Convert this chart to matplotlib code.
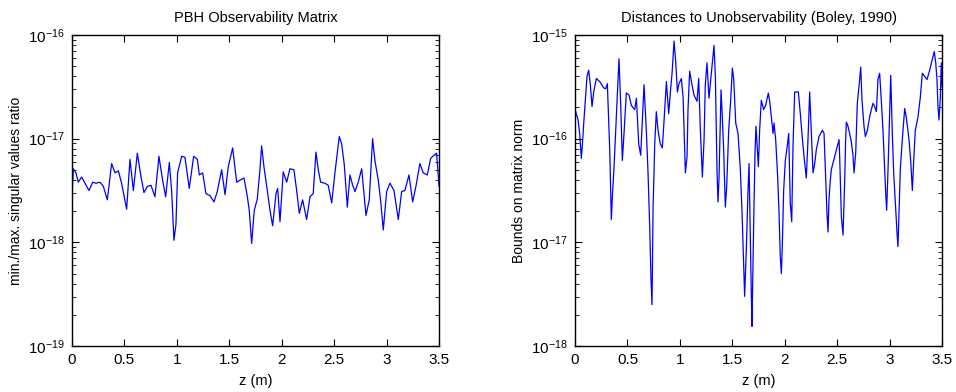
import numpy as np
import matplotlib
matplotlib.use("Agg")
import matplotlib.pyplot as plt
from matplotlib.ticker import FixedLocator, NullFormatter

plt.rcParams["font.family"] = ["Liberation Sans", "DejaVu Sans"]
plt.rcParams["mathtext.default"] = "regular"

# left panel: PBH observability matrix (min/max singular value ratio, log10)
z_pbh = [0.000, 0.013, 0.038, 0.060, 0.092, 0.124, 0.162, 0.197, 0.229, 0.267,
         0.299, 0.337, 0.378, 0.410, 0.442, 0.473, 0.521, 0.553, 0.585, 0.623,
         0.655, 0.686, 0.718, 0.753, 0.791, 0.829, 0.864, 0.893, 0.928, 0.950,
         0.972, 0.991, 1.007, 1.046, 1.077, 1.118, 1.160, 1.195, 1.214, 1.246,
         1.277, 1.316, 1.354, 1.385, 1.427, 1.459, 1.490, 1.532, 1.570, 1.602,
         1.640, 1.672, 1.690, 1.713, 1.738, 1.767, 1.792, 1.808, 1.830, 1.862,
         1.888, 1.913, 1.945, 1.961, 1.983, 2.014, 2.047, 2.078, 2.116, 2.142,
         2.167, 2.199, 2.237, 2.269, 2.300, 2.326, 2.348, 2.371, 2.412, 2.443,
         2.476, 2.507, 2.548, 2.571, 2.596, 2.625, 2.650, 2.676, 2.698, 2.729,
         2.762, 2.803, 2.834, 2.866, 2.888, 2.920, 2.942, 2.968, 3.000, 3.031,
         3.070, 3.111, 3.143, 3.174, 3.213, 3.248, 3.279, 3.317, 3.349, 3.387,
         3.420, 3.451, 3.476, 3.500]
log_pbh = [-17.58, -17.29, -17.33, -17.42, -17.37, -17.43, -17.50, -17.42, -17.43, -17.42,
           -17.46, -17.59, -17.24, -17.33, -17.31, -17.43, -17.68, -17.20, -17.50, -17.14,
           -17.35, -17.52, -17.46, -17.45, -17.56, -17.17, -17.40, -17.56, -17.23, -17.50,
           -17.98, -17.83, -17.33, -17.17, -17.18, -17.48, -17.17, -17.20, -17.35, -17.33,
           -17.53, -17.55, -17.61, -17.51, -17.30, -17.54, -17.27, -17.09, -17.42, -17.40,
           -17.38, -17.56, -17.69, -18.01, -17.69, -17.58, -17.30, -17.07, -17.27, -17.50,
           -17.69, -17.84, -17.53, -17.48, -17.80, -17.32, -17.42, -17.29, -17.30, -17.50,
           -17.72, -17.59, -17.78, -17.56, -17.53, -17.13, -17.30, -17.42, -17.43, -17.45,
           -17.62, -17.33, -16.98, -17.05, -17.25, -17.66, -17.35, -17.45, -17.51, -17.42,
           -17.29, -17.74, -17.59, -17.00, -17.21, -17.40, -17.59, -17.88, -17.51, -17.43,
           -17.50, -17.78, -17.51, -17.50, -17.35, -17.61, -17.46, -17.24, -17.33, -17.35,
           -17.19, -17.16, -17.14, -17.46]

# right panel: Boley (1990) distance bounds (log10)
z_boley = [0.006, 0.029, 0.044, 0.060, 0.070, 0.083, 0.099, 0.114, 0.130, 0.146,
           0.162, 0.178, 0.203, 0.235, 0.273, 0.292, 0.308, 0.331, 0.346, 0.356,
           0.372, 0.388, 0.403, 0.419, 0.435, 0.451, 0.467, 0.489, 0.515, 0.537,
           0.569, 0.585, 0.607, 0.626, 0.648, 0.658, 0.680, 0.696, 0.712, 0.724,
           0.734, 0.744, 0.760, 0.775, 0.791, 0.813, 0.832, 0.848, 0.871, 0.893,
           0.909, 0.925, 0.944, 0.960, 0.976, 0.991, 1.014, 1.030, 1.052, 1.068,
           1.077, 1.093, 1.115, 1.134, 1.163, 1.179, 1.195, 1.214, 1.230, 1.242,
           1.258, 1.277, 1.300, 1.316, 1.325, 1.338, 1.354, 1.363, 1.373, 1.392,
           1.404, 1.417, 1.433, 1.446, 1.465, 1.484, 1.500, 1.513, 1.532, 1.554,
           1.576, 1.592, 1.608, 1.617, 1.633, 1.649, 1.659, 1.671, 1.681, 1.687,
           1.703, 1.716, 1.725, 1.735, 1.748, 1.760, 1.776, 1.798, 1.817, 1.843,
           1.856, 1.875, 1.888, 1.897, 1.913, 1.932, 1.945, 1.957, 1.967, 1.976,
           1.989, 2.005, 2.021, 2.037, 2.052, 2.066, 2.078, 2.094, 2.110, 2.129,
           2.148, 2.164, 2.183, 2.205, 2.221, 2.237, 2.253, 2.269, 2.285, 2.300,
           2.326, 2.358, 2.374, 2.390, 2.402, 2.412, 2.421, 2.434, 2.443, 2.517,
           2.523, 2.539, 2.555, 2.571, 2.580, 2.587, 2.602, 2.618, 2.634, 2.650,
           2.660, 2.676, 2.691, 2.707, 2.724, 2.736, 2.755, 2.768, 2.787, 2.809,
           2.825, 2.841, 2.857, 2.873, 2.888, 2.904, 2.920, 2.936, 2.952, 2.962,
           2.971, 2.984, 3.000, 3.010, 3.025, 3.038, 3.054, 3.070, 3.079, 3.089,
           3.101, 3.120, 3.143, 3.159, 3.184, 3.200, 3.216, 3.229, 3.244, 3.270,
           3.292, 3.311, 3.334, 3.356, 3.381, 3.406, 3.425, 3.439, 3.451, 3.460,
           3.470, 3.483, 3.492, 3.500]
log_boley = [-15.74, -15.82, -15.95, -16.19, -16.06, -15.85, -15.61, -15.40, -15.34, -15.48,
             -15.69, -15.55, -15.42, -15.45, -15.51, -15.52, -15.47, -16.11, -16.78, -16.56,
             -16.27, -15.92, -15.60, -15.23, -15.66, -16.21, -15.95, -15.56, -15.58, -15.68,
             -15.72, -15.61, -16.05, -16.16, -15.69, -15.48, -15.93, -16.33, -16.85, -17.35,
             -17.60, -16.67, -16.05, -15.74, -15.92, -16.05, -16.09, -15.84, -15.45, -15.76,
             -15.55, -15.37, -15.06, -15.26, -15.55, -15.47, -15.42, -15.60, -16.33, -16.17,
             -15.72, -15.35, -15.48, -15.58, -15.64, -15.42, -15.92, -16.37, -16.01, -15.48,
             -15.27, -15.61, -15.37, -15.21, -15.10, -15.40, -16.33, -16.61, -16.37, -15.53,
             -15.79, -16.11, -16.66, -16.46, -15.92, -15.63, -15.32, -15.43, -15.85, -15.95,
             -16.30, -16.70, -17.23, -17.52, -17.07, -16.50, -16.24, -16.95, -17.52, -17.81,
             -16.82, -16.14, -15.88, -16.05, -16.27, -15.92, -15.63, -15.72, -15.68, -15.56,
             -15.64, -15.82, -15.95, -15.85, -16.01, -16.37, -16.72, -17.14, -17.30, -17.04,
             -16.50, -16.21, -16.09, -15.95, -16.62, -16.80, -16.08, -15.55, -15.55, -15.55,
             -15.76, -15.96, -16.17, -16.38, -16.01, -15.55, -15.95, -16.33, -16.24, -16.11,
             -15.98, -15.92, -15.95, -16.40, -16.72, -16.90, -16.59, -16.40, -16.30, -16.01,
             -16.17, -16.75, -16.93, -16.40, -16.01, -15.84, -15.88, -15.95, -16.03, -16.16,
             -16.33, -16.14, -15.66, -15.50, -15.31, -15.63, -15.88, -15.98, -15.92, -15.79,
             -15.72, -15.66, -15.69, -15.74, -15.43, -15.37, -15.63, -15.92, -16.30, -16.53,
             -16.69, -16.30, -15.76, -15.39, -15.95, -16.33, -16.62, -16.91, -17.04, -16.69,
             -16.30, -16.01, -15.71, -15.80, -16.01, -16.21, -16.50, -16.21, -15.92, -15.79,
             -15.60, -15.37, -15.40, -15.43, -15.34, -15.24, -15.16, -15.27, -15.43, -15.69,
             -15.82, -15.60, -15.27, -15.50]

titles = ["PBH Observability Matrix", "Distances to Unobservability (Boley, 1990)"]
ylabels = ["min./max. singular values ratio", "Bounds on matrix norm"]
decades = [[-19, -18, -17, -16], [-18, -17, -16, -15]]
xticks = [0, 0.5, 1, 1.5, 2, 2.5, 3, 3.5]
xticklabels = ["0", "0.5", "1", "1.5", "2", "2.5", "3", "3.5"]

fig = plt.figure(figsize=(9.56, 3.92), dpi=100)
boxes = [[0.0753, 0.117, 0.384, 0.794], [0.6015, 0.117, 0.384, 0.794]]
series = [(z_pbh, log_pbh), (z_boley, log_boley)]

for i in range(2):
    ax = fig.add_axes(boxes[i])
    z, lv = series[i]
    ax.semilogy(z, 10.0 ** np.array(lv), color=(0, 0, 1), lw=0.9)
    ax.set_xlim(0, 3.5)
    d = decades[i]
    ax.set_ylim(10.0 ** d[0], 10.0 ** d[-1])
    ax.set_yticks([10.0 ** e for e in d])
    ax.set_yticklabels(["$10^{%d}$" % e for e in d])
    minors = [m * 10.0 ** e for e in d[:-1] for m in range(2, 10)]
    ax.yaxis.set_minor_locator(FixedLocator(minors))
    ax.yaxis.set_minor_formatter(NullFormatter())
    ax.set_xticks(xticks)
    ax.set_xticklabels(xticklabels)
    ax.tick_params(which="both", direction="in", top=True, right=True,
                   labelsize=11, pad=5)
    ax.tick_params(which="major", length=5, width=0.8)
    ax.tick_params(which="minor", length=3, width=0.6)
    for s in ax.spines.values():
        s.set_linewidth(1.0)
    ax.set_title(titles[i], fontsize=10.5, pad=9)
    ax.set_xlabel("z (m)", fontsize=10.5, labelpad=5)
    ax.set_ylabel(ylabels[i], fontsize=10, labelpad=4)

fig.savefig("out.png", dpi=100)
